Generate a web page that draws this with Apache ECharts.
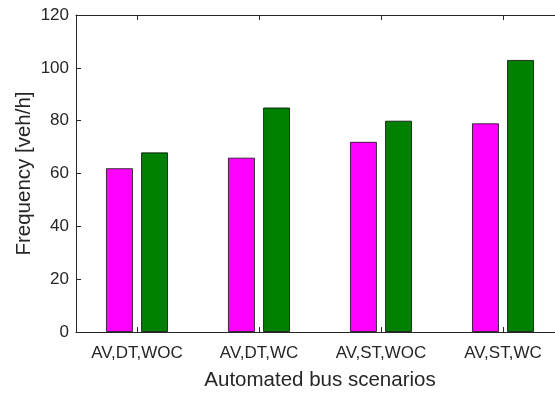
<!DOCTYPE html>
<html>
<head>
<meta charset="utf-8">
<script src="https://cdn.jsdelivr.net/npm/echarts@6/dist/echarts.min.js"></script>
<style>
  html, body { margin: 0; padding: 0; background: #fff; }
  #chart { width: 555px; height: 394px; }
</style>
</head>
<body>
<div id="chart"></div>
<script>
// Automated bus scenarios and their frequencies (veh/h)
const categories = ['AV,DT,WOC', 'AV,DT,WC', 'AV,ST,WOC', 'AV,ST,WC'];
const seriesA = [62, 66, 72, 79];
const seriesB = [68, 85, 80, 103];
const yTicks = { min: 0, max: 120, interval: 20 };

const axisColor = '#262626';
const font = 'Liberation Sans, Arial, Helvetica, sans-serif';

const chart = echarts.init(document.getElementById('chart'), null, { renderer: 'canvas' });

const xBase = {
  type: 'category',
  data: categories,
  boundaryGap: true,
  axisLine: { show: true, lineStyle: { color: axisColor, width: 1 } },
  axisTick: { show: true, inside: true, length: 5, alignWithLabel: true, lineStyle: { color: axisColor } },
  splitLine: { show: false }
};

chart.setOption({
  animation: false,
  backgroundColor: '#fff',
  // plot box runs a little past the right edge of the canvas
  grid: { left: 76, top: 15, right: -9, bottom: 62, containLabel: false, outerBoundsMode: 'none' },
  xAxis: [
    Object.assign({}, xBase, {
      position: 'bottom',
      axisLabel: { color: axisColor, fontSize: 17, fontFamily: font, margin: 13 },
      name: 'Automated bus scenarios',
      nameLocation: 'middle',
      nameGap: 38,
      nameMoveOverlap: false,
      nameTextStyle: { color: axisColor, fontSize: 20.5, fontFamily: font }
    }),
    Object.assign({}, xBase, {
      position: 'top',
      axisLabel: { show: false }
    })
  ],
  yAxis: {
    type: 'value',
    min: yTicks.min,
    max: yTicks.max,
    interval: yTicks.interval,
    axisLine: { show: true, lineStyle: { color: axisColor, width: 1 } },
    axisTick: { show: true, inside: true, length: 5, lineStyle: { color: axisColor } },
    axisLabel: { color: axisColor, fontSize: 17, fontFamily: font, margin: 7 },
    splitLine: { show: false },
    name: 'Frequency [veh/h]',
    nameLocation: 'middle',
    nameGap: 41,
    nameMoveOverlap: false,
    nameTextStyle: { color: axisColor, fontSize: 20.5, fontFamily: font }
  },
  series: [
    {
      type: 'bar',
      data: seriesA,
      barWidth: 27,
      barGap: '30%',
      itemStyle: { color: '#ff00ff', borderColor: 'rgba(0,0,0,0.75)', borderWidth: 1 }
    },
    {
      type: 'bar',
      data: seriesB,
      barWidth: 27,
      barGap: '30%',
      itemStyle: { color: '#007f00', borderColor: 'rgba(0,0,0,0.75)', borderWidth: 1 }
    }
  ]
});
</script>
</body>
</html>
